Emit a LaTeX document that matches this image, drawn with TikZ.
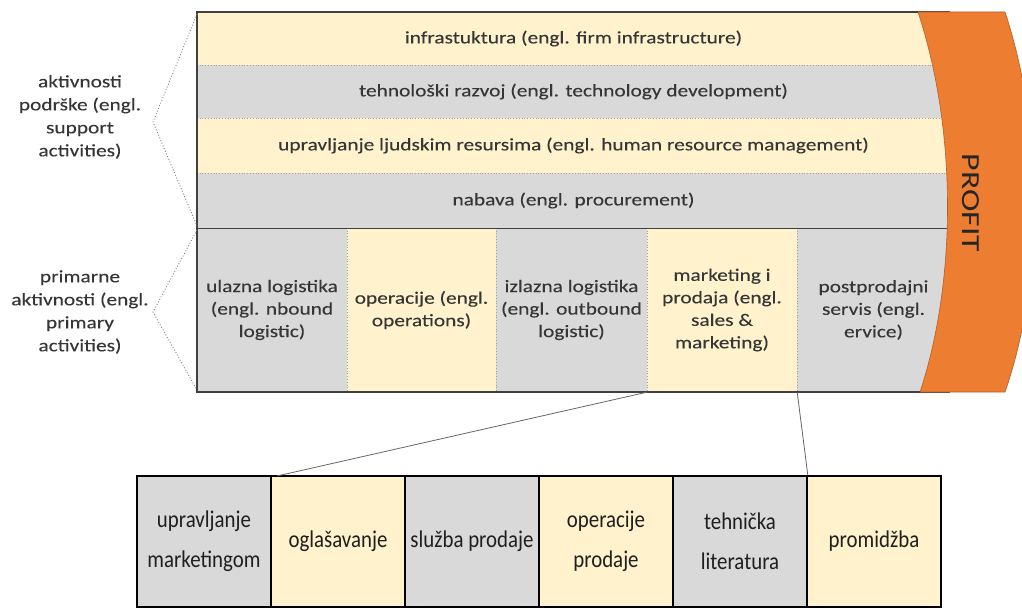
\documentclass[tikz,border=0pt]{standalone}
\usepackage{fontspec}
\setmainfont{Carlito}
\newfontfamily\narrowfont[FakeStretch=0.87]{Carlito}
\newfontfamily\widefont[FakeStretch=1.22,FakeBold=0.12]{Carlito}
\newfontfamily\proffont[FakeStretch=1.3]{Carlito}
\definecolor{gfill}{HTML}{D9D9D9}
\definecolor{yfill}{HTML}{FFF2CC}
\definecolor{txt}{HTML}{363636}
\definecolor{prof}{HTML}{ED7D31}
\definecolor{profd}{HTML}{B4602A}
\definecolor{bord}{HTML}{404040}
\begin{document}
\begin{tikzpicture}[x=1pt,y=-1pt,
  cell/.style={inner sep=0pt, text=txt, align=center, font=\widefont\fontsize{17.5}{22.5}\selectfont},
  sep/.style={dotted, draw=gray!75, line width=0.8pt},
  side/.style={dotted, draw=gray, line width=0.9pt},
  lbl/.style={inner sep=0pt, text=txt, align=center, font=\widefont\fontsize{17.5}{23}\selectfont},
  bbox/.style={draw=black, line width=1.6pt, inner sep=0pt, minimum width=134pt, minimum height=131pt,
    align=center, text=black!88, font=\narrowfont\fontsize{24}{40}\selectfont},
  zoomline/.style={draw=gray!80!black, line width=0.8pt}]
\useasboundingbox (0,0) rectangle (1022,610);
\clip (0,0) rectangle (1022,610);

% support rows
\node[cell, fill=yfill, minimum width=753pt, minimum height=53pt] (r1) at (573.5,38.5) {infrastuktura (engl. firm infrastructure)};
\node[cell, fill=gfill, minimum width=753pt, minimum height=53pt] (r2) at (573.5,91.5) {tehnološki razvoj (engl. technology development)};
\node[cell, fill=yfill, minimum width=753pt, minimum height=55pt] (r3) at (573.5,145.5) {upravljanje ljudskim resursima (engl. human resource management)};
\node[cell, fill=gfill, minimum width=753pt, minimum height=55pt] (r4) at (573.5,200.5) {nabava (engl. procurement)};

% primary columns
\node[cell, fill=gfill, minimum width=150pt, minimum height=164pt] (c1) at (272,310) {ulazna logistika\\(engl. nbound\\logistic)};
\node[cell, fill=yfill, minimum width=149pt, minimum height=164pt] (c2) at (421.5,310) {operacije (engl.\\operations)};
\node[cell, fill=gfill, minimum width=151pt, minimum height=164pt] (c3) at (571.5,310) {izlazna logistika\\(engl. outbound\\logistic)};
\node[cell, fill=yfill, minimum width=150pt, minimum height=164pt] (c4) at (722,310) {marketing i\\prodaja (engl.\\sales \&\\marketing)};
\node[cell, fill=gfill, minimum width=153pt, minimum height=164pt] (c5) at (873.5,310) {postprodajni\\servis (engl.\\ervice)};

% separators
\draw[sep] (r1.south west) -- (r1.south east);
\draw[sep] (r2.south west) -- (r2.south east);
\draw[sep] (r3.south west) -- (r3.south east);
\draw[sep] (c1.north east) -- (c1.south east);
\draw[sep] (c2.north east) -- (c2.south east);
\draw[sep] (c3.north east) -- (c3.south east);
\draw[sep] (c4.north east) -- (c4.south east);

% main border
\draw[bord, line width=1.6pt] (r1.north east) -- (r1.north west) -- (c1.south west) -- (c5.south east);
\draw[bord, line width=1.4pt] (r4.south west) -- (r4.south east);

% profit chevron
\filldraw[fill=prof, draw=profd, line width=0.6pt]
  (918,12) -- (1005,12) .. controls (1044,130) and (1044,280) .. (1005,392)
  -- (920,392) .. controls (957,280) and (957,130) .. (918,12) -- cycle;
\node[rotate=-90, inner sep=0pt, text=black!85, font=\proffont\fontsize{26}{26}\selectfont] (profit) at (971,203) {PROFIT};

% left labels and braces
\node[lbl] (sup) at (80,117) {aktivnosti\\podrške (engl.\\support\\activities)};
\node[lbl] (pri) at (80,312) {primarne\\aktivnosti (engl.\\primary\\activities)};
\coordinate (sa) at (197,14);
\coordinate (sv) at (153,122);
\coordinate (sb) at (197,226);
\coordinate (pa) at (197,230);
\coordinate (pv) at (153,312);
\coordinate (pb) at (197,390);
\draw[side] (sa) -- (sv) -- (sb);
\draw[side] (pa) -- (pv) -- (pb);

% bottom boxes
\node[bbox, fill=gfill] (b1) at (204,541.5) {upravljanje\\marketingom};
\node[bbox, fill=yfill] (b2) at (338,541.5) {oglašavanje};
\node[bbox, fill=gfill] (b3) at (472,541.5) {služba prodaje};
\node[bbox, fill=yfill] (b4) at (606,541.5) {operacije\\prodaje};
\node[bbox, fill=gfill] (b5) at (740,541.5) {tehnička\\literatura};
\node[bbox, fill=yfill] (b6) at (874,541.5) {promidžba};

% zoom lines
\coordinate (zl) at (277,476);
\draw[zoomline] (c4.south west) -- (zl);
\draw[zoomline] (c4.south east) -- (b5.north east);
\end{tikzpicture}
\end{document}
